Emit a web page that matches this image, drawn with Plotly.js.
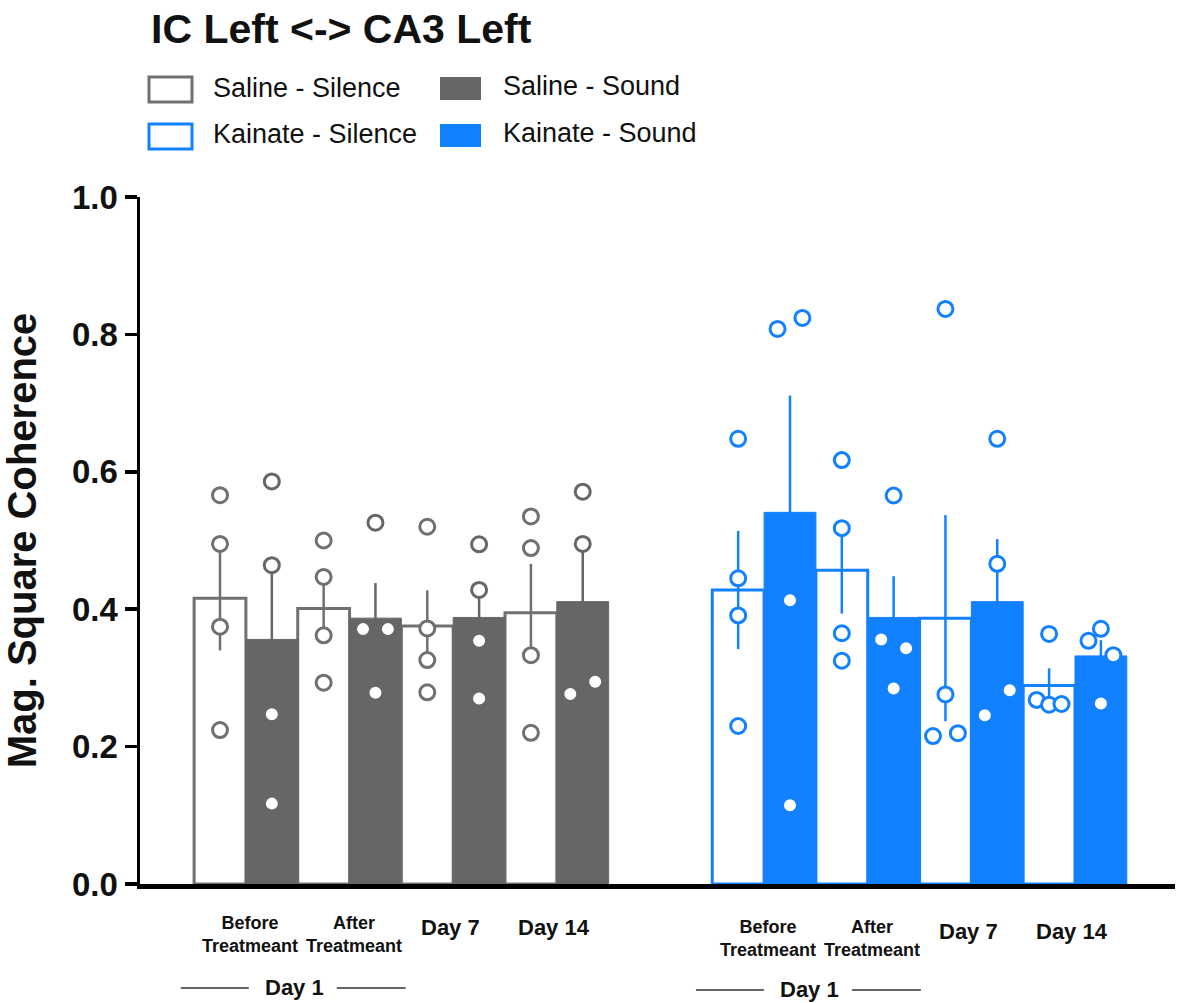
<!DOCTYPE html>
<html>
<head>
<meta charset="utf-8">
<script src="https://cdn.plot.ly/plotly-3.0.1.min.js"></script>
<style>
  html, body { margin: 0; padding: 0; background: #ffffff; }
  #chart { width: 1179px; height: 1003px; }
</style>
</head>
<body>
<div id="chart"></div>
<script>
// ---- data ----
const timepoints = ['Before<br>Treatmeant', 'After<br>Treatmeant', 'Day 7', 'Day 14'];
const seriesNames = ['Saline - Silence', 'Saline - Sound', 'Kainate - Silence', 'Kainate - Sound'];

// group means (bar heights)
const salineSilenceMean = [0.416, 0.401, 0.3755, 0.395];
const salineSoundMean = [0.356, 0.387, 0.388, 0.411];
const kainateSilenceMean = [0.428, 0.4566, 0.387, 0.289];
const kainateSoundMean = [0.541, 0.388, 0.411, 0.332];

// standard error of the mean
const salineSilenceSem = [0.076, 0.046, 0.052, 0.071];
const salineSoundSem = [0.106, 0.051, 0.046, 0.073];
const kainateSilenceSem = [0.086, 0.063, 0.150, 0.025];
const kainateSoundSem = [0.170, 0.060, 0.091, 0.023];

// individual animals, one list per time point
const salineSilenceDots = [
  [0.566, 0.495, 0.3745, 0.224],
  [0.500, 0.447, 0.362, 0.293],
  [0.520, 0.372, 0.326, 0.279],
  [0.535, 0.489, 0.333, 0.220]
];
const salineSoundDots = [
  [0.586, 0.464, 0.247, 0.117],
  [0.526, 0.371, 0.371, 0.2785],
  [0.4945, 0.428, 0.354, 0.270],
  [0.571, 0.495, 0.2766, 0.2945]
];
const kainateSilenceDots = [
  [0.648, 0.445, 0.391, 0.230],
  [0.617, 0.518, 0.365, 0.325],
  [0.837, 0.276, 0.2154, 0.2195],
  [0.364, 0.268, 0.261, 0.262]
];
const kainateSoundDots = [
  [0.808, 0.824, 0.413, 0.1146],
  [0.5655, 0.356, 0.343, 0.2847],
  [0.648, 0.466, 0.282, 0.2456],
  [0.354, 0.3715, 0.333, 0.2626]
];

// ---- presentation ----
// side-by-side spread of overlapping dots (-1 left, 0 centre, +1 right)
const salineSilenceSpread = [[0,0,0,0],[0,0,0,0],[0,0,0,0],[0,0,0,0]];
const salineSoundSpread = [[0,0,0,0],[0,-1,1,0],[0,0,0,0],[0,0,-1,1]];
const kainateSilenceSpread = [[0,0,0,0],[0,0,0,0],[0,0,-1,1],[0,-1,0,1]];
const kainateSoundSpread = [[-1,1,0,0],[0,-1,1,0],[0,0,1,-1],[-1,0,1,0]];
const spreadStep = 0.24;

const lineColors = ['#707070', '#666666', '#1281FF', '#1281FF'];
const fillColors = ['#ffffff', '#666666', '#ffffff', '#1281FF'];
const groupStart = [0, 10];          // first slot of the saline and kainate blocks
const seriesGroup = [0, 0, 1, 1];
const seriesSide = [0, 1, 0, 1];     // silence left, sound right within a time point

const means = [salineSilenceMean, salineSoundMean, kainateSilenceMean, kainateSoundMean];
const sems = [salineSilenceSem, salineSoundSem, kainateSilenceSem, kainateSoundSem];
const dots = [salineSilenceDots, salineSoundDots, kainateSilenceDots, kainateSoundDots];
const spreads = [salineSilenceSpread, salineSoundSpread, kainateSilenceSpread, kainateSoundSpread];

const FONT = 'Liberation Sans, Arial, Helvetica, sans-serif';

function slotOf(s, t) {
  return groupStart[seriesGroup[s]] + 2 * t + seriesSide[s];
}

const traces = [];
seriesNames.forEach((name, s) => {
  traces.push({
    type: 'bar',
    name: name,
    x: timepoints.map((_, t) => slotOf(s, t)),
    y: means[s],
    width: 1,
    marker: {
      color: fillColors[s],
      line: { color: lineColors[s], width: seriesSide[s] === 0 ? 3 : 1 }
    },
    error_y: {
      type: 'data', array: sems[s], symmetric: true,
      color: lineColors[s], thickness: 2.5, width: 0
    },
    showlegend: false,
    hoverinfo: 'y'
  });
});
seriesNames.forEach((name, s) => {
  const xs = [], ys = [];
  dots[s].forEach((vals, t) => {
    vals.forEach((v, i) => {
      xs.push(slotOf(s, t) + spreads[s][t][i] * spreadStep);
      ys.push(v);
    });
  });
  traces.push({
    type: 'scatter',
    mode: 'markers',
    name: name,
    x: xs,
    y: ys,
    marker: {
      symbol: 'circle', size: 15, color: '#ffffff',
      line: { color: seriesSide[s] === 0 ? lineColors[s] : fillColors[s], width: 3 }
    },
    showlegend: false,
    cliponaxis: false,
    hoverinfo: 'y'
  });
});

// ---- page geometry (pixels) ----
const W = 1179, H = 1003;
const M = { l: 140, r: 4, t: 197, b: 119 };
const plotW = W - M.l - M.r, plotH = H - M.t - M.b;
const fx = px => (px - M.l) / plotW;
const fy = py => (H - M.b - py) / plotH;

const annotations = [];
const shapes = [];

// time-point labels under each block
groupStart.forEach((g0, gi) => {
  const drop = gi === 0 ? 0 : 4;
  timepoints.forEach((lab, t) => {
    const twoLine = lab.indexOf('<br>') >= 0;
    annotations.push({
      xref: 'x', yref: 'paper', x: g0 + 2 * t + 0.5, y: 0,
      xanchor: 'center', yanchor: 'middle',
      xshift: twoLine ? 4 : -3,
      yshift: -(twoLine ? 50 + drop : 43 + drop),
      text: lab, showarrow: false,
      font: { family: FONT, size: 18, color: '#111111', weight: 'bold' }
    });
    if (!twoLine) annotations[annotations.length - 1].font.size = 22;
  });
  // "Day 1" bracket over the first two time points
  const cx = g0 + 1.5;
  const nudge = gi === 0 ? -3 : -6;
  const yOff = gi === 0 ? -103 : -105;
  annotations.push({
    xref: 'x', yref: 'paper', x: cx, y: 0, xanchor: 'center', yanchor: 'middle',
    xshift: nudge, yshift: yOff, text: 'Day 1', showarrow: false,
    font: { family: FONT, size: 22, color: '#111111', weight: 'bold' }
  });
  [[-114, -46], [42, 111]].forEach(([a, b]) => {
    shapes.push({
      type: 'line', xref: 'x', yref: 'paper',
      xsizemode: 'pixel', xanchor: cx, x0: a + nudge, x1: b + nudge,
      ysizemode: 'pixel', yanchor: 0, y0: yOff - 1, y1: yOff - 1,
      line: { color: '#333333', width: 1.5 }
    });
  });
});

// legend swatches and labels
const legendBoxes = [
  [149, 77, 192, 102], [440, 77, 481, 100],
  [149, 124, 192, 149], [440, 124, 481, 147]
];
const legendText = [[211, 88], [501, 86], [211, 134], [501, 133]];
seriesNames.forEach((name, s) => {
  const [x0, y0, x1, y1] = legendBoxes[s];
  const hollow = seriesSide[s] === 0;
  shapes.push({
    type: 'rect', xref: 'paper', yref: 'paper',
    x0: fx(x0), x1: fx(x1), y0: fy(y1), y1: fy(y0),
    fillcolor: hollow ? '#ffffff' : fillColors[s],
    line: { color: lineColors[s], width: hollow ? 3 : 0 }
  });
  annotations.push({
    xref: 'paper', yref: 'paper', x: fx(legendText[s][0]), y: fy(legendText[s][1]),
    xanchor: 'left', yanchor: 'middle', text: name, showarrow: false,
    font: { family: FONT, size: 27, color: '#111111' }
  });
});

const layout = {
  width: W, height: H,
  margin: M,
  paper_bgcolor: '#ffffff', plot_bgcolor: '#ffffff',
  barmode: 'overlay',
  showlegend: false,
  title: {
    text: 'IC Left &lt;-&gt; CA3 Left',
    xref: 'container', yref: 'container',
    x: 151 / W, y: 1 - 29 / H, xanchor: 'left', yanchor: 'middle',
    font: { family: FONT, size: 41, color: '#111111', weight: 'bold' }
  },
  xaxis: {
    range: [-1.544, 18.43],
    showticklabels: false, ticks: '', showgrid: false, zeroline: false,
    showline: true, linecolor: '#000000', linewidth: 4.5, fixedrange: true
  },
  yaxis: {
    range: [0, 1],
    tickvals: [0, 0.2, 0.4, 0.6, 0.8, 1.0],
    tickformat: '.1f',
    ticks: 'outside', ticklen: 12, tickwidth: 3.5, tickcolor: '#000000',
    showgrid: false, zeroline: false,
    showline: true, linecolor: '#000000', linewidth: 3.5,
    tickfont: { family: FONT, size: 33, color: '#111111', weight: 'bold' },
    title: {
      text: 'Mag. Square Coherence', standoff: 28,
      font: { family: FONT, size: 40, color: '#111111', weight: 'bold' }
    },
    automargin: false, fixedrange: true
  },
  annotations: annotations,
  shapes: shapes
};

Plotly.newPlot('chart', traces, layout, { displayModeBar: false, staticPlot: true });
</script>
</body>
</html>
